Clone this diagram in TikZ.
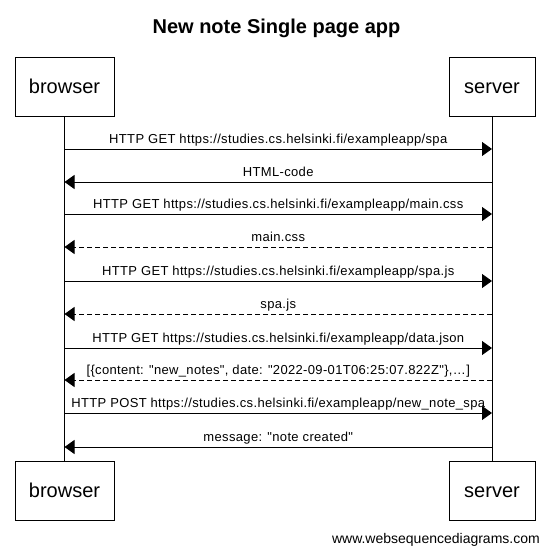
\documentclass[tikz,border=0pt]{standalone}
\usepackage{fontspec}
\setmainfont{Liberation Sans}
\newfontfamily\lblfont[LetterSpace=2.6]{Liberation Sans}
\usetikzlibrary{arrows.meta}
\begin{document}
\begin{tikzpicture}[x=1pt,y=-1pt,
  actor/.style={draw,line width=1pt,minimum height=59pt,inner sep=0pt,text height=15.75pt,text depth=2.75pt,font=\fontsize{20}{24}\selectfont},
  life/.style={line width=1pt},
  msg/.style={line width=1pt,-{Triangle[length=10pt,width=14pt]}},
  reply/.style={msg,dash pattern=on 5pt off 3pt},
  lbl/.style={font=\lblfont\fontsize{13}{15}\selectfont,anchor=base,inner sep=0pt,yshift=6pt}]
\useasboundingbox (0,0) rectangle (550,552);
\fill[white] (0,0) rectangle (550,552);
\node[font=\bfseries\fontsize{20}{24}\selectfont,anchor=base] (title) at (276.5,33) {New note Single page app};
\node[actor,minimum width=99pt] (bt) at (64.5,86.5) {browser};
\node[actor,minimum width=86pt] (st) at (492,86.5) {server};
\node[actor,minimum width=99pt] (bb) at (64.5,490.5) {browser};
\node[actor,minimum width=86pt] (sb) at (492,490.5) {server};
\draw[life] (bt.south) -- (bb.north);
\draw[life] (st.south) -- (sb.north);
\foreach \i/\y in {1/149,2/182,3/214,4/247,5/281,6/314,7/348,8/380,9/413,10/447}{
  \coordinate (b\i) at (64.5,\y);
  \coordinate (s\i) at (492,\y);
}
\draw[msg] (b1) -- node[lbl] (m1) {HTTP GET https://studies.cs.helsinki.fi/exampleapp/spa} (s1);
\draw[msg] (s2) -- node[lbl] (m2) {HTML-code} (b2);
\draw[msg] (b3) -- node[lbl] (m3) {HTTP GET https://studies.cs.helsinki.fi/exampleapp/main.css} (s3);
\draw[reply] (s4) -- node[lbl] (m4) {main.css} (b4);
\draw[msg] (b5) -- node[lbl] (m5) {HTTP GET https://studies.cs.helsinki.fi/exampleapp/spa.js} (s5);
\draw[reply] (s6) -- node[lbl] (m6) {spa.js} (b6);
\draw[msg] (b7) -- node[lbl] (m7) {HTTP GET https://studies.cs.helsinki.fi/exampleapp/data.json} (s7);
\draw[reply] (s8) -- node[lbl] (m8) {[\{content: "new\_notes", date: "2022-09-01T06:25:07.822Z"\},\dots]} (b8);
\draw[msg] (b9) -- node[lbl] (m9) {HTTP POST https://studies.cs.helsinki.fi/exampleapp/new\_note\_spa} (s9);
\draw[msg] (s10) -- node[lbl] (m10) {message: "note created"} (b10);
\node[font=\fontsize{14}{16}\selectfont,anchor=base east,inner sep=0pt] (foot) at (540,543) {www.websequencediagrams.com};
\end{tikzpicture}
\end{document}
